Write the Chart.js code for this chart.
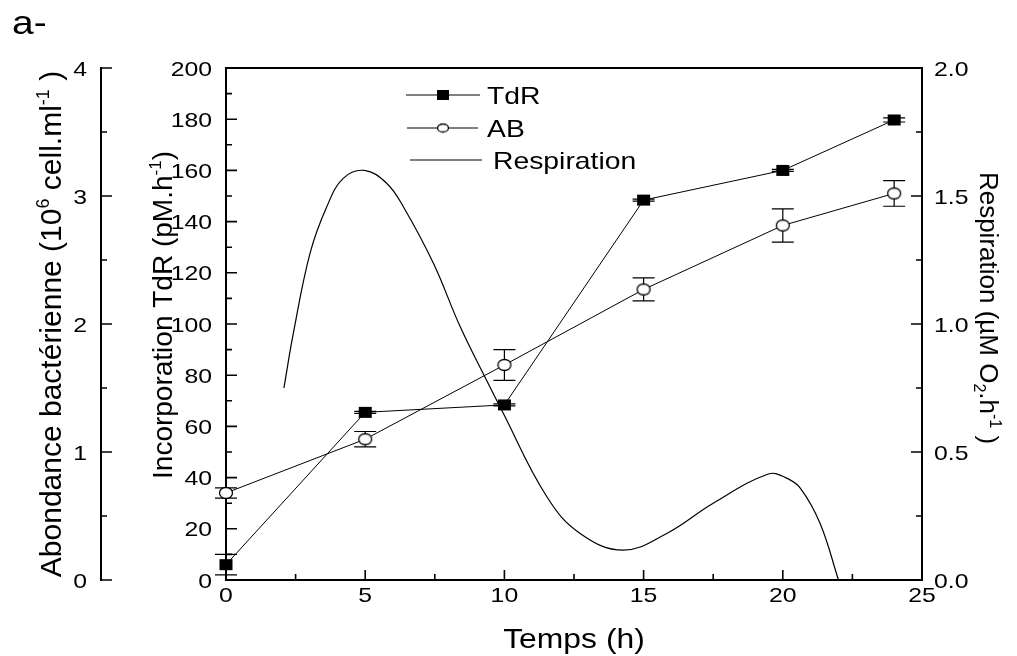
<!DOCTYPE html>
<html>
<head>
<meta charset="utf-8">
<script src="https://cdn.jsdelivr.net/npm/chart.js@4.4.0/dist/chart.umd.min.js"></script>
<style>
  html, body { margin: 0; padding: 0; background: #fff; }
  canvas { display: block; }
</style>
</head>
<body>
<canvas id="chart" width="1017" height="656"></canvas>
<script>
// --- data ---
const timeTdR = [0, 5, 10, 15, 20, 24];
const tdrValues = [6, 65.5, 68.4, 148.4, 160, 179.7];
const tdrErrors = [4, 0.4, 0.4, 0.4, 0.4, 0.8];

const timeAB = [0, 5, 10, 15, 20, 24];
const abValues = [0.68, 1.10, 1.68, 2.27, 2.77, 3.02];
const abErrors = [0.04, 0.06, 0.12, 0.09, 0.13, 0.10];

const respTime = [2.08, 2.42, 3.02, 3.62, 4.21, 4.97, 5.77, 6.37, 7.45, 8.41, 9.36, 9.9, 11.52, 12.72, 14.27, 15.83, 17.5, 19.48, 20.1, 20.62, 21.34, 22.0];
const respValues = [0.75, 0.964, 1.277, 1.458, 1.569, 1.60, 1.55, 1.458, 1.237, 0.99, 0.78, 0.664, 0.326, 0.182, 0.117, 0.182, 0.30, 0.414, 0.40, 0.36, 0.221, 0.0];

const xTicks = [0, 5, 10, 15, 20, 25];
const xMinorTicks = [2.5, 7.5, 12.5, 17.5, 22.5];
const tdrTicks = [0, 20, 40, 60, 80, 100, 120, 140, 160, 180, 200];
const abTicks = [0, 1, 2, 3, 4];
const respTicks = ['0.0', '0.5', '1.0', '1.5', '2.0'];

const FONT = '"Liberation Sans", Arial, sans-serif';
const SX = 1.18; // horizontal text is drawn a bit wide, like the original

function makeMarker(w, h, filled) {
  const c = document.createElement('canvas');
  c.width = w + 2; c.height = h + 2;
  const g = c.getContext('2d');
  if (filled) {
    g.fillStyle = '#000';
    g.fillRect(1, 1, w, h);
  } else {
    g.fillStyle = '#fff';
    g.strokeStyle = '#000';
    g.lineWidth = 1.3;
    g.beginPath();
    g.ellipse((w + 2) / 2, (h + 2) / 2, w / 2 - 0.5, h / 2 - 0.5, 0, 0, Math.PI * 2);
    g.fill();
    g.stroke();
  }
  return c;
}
const squareMark = makeMarker(13, 11, true);
const circleMark = makeMarker(14, 12, false);
const squareLegend = makeMarker(12, 10, true);
const circleLegend = makeMarker(12, 9, false);

// parts: [text, kind] kind 0 normal, 1 superscript, -1 subscript
function drawRich(ctx, parts, x, y, rot, size, align) {
  ctx.save();
  ctx.translate(x, y);
  if (!rot) ctx.scale(SX, 1);
  ctx.rotate(rot);
  ctx.textAlign = 'left';
  ctx.textBaseline = 'alphabetic';
  ctx.fillStyle = '#000';
  let total = 0;
  const widths = parts.map(([t, k]) => {
    ctx.font = (k ? Math.round(size * 0.6) : size) + 'px ' + FONT;
    const w = ctx.measureText(t).width;
    total += w;
    return w;
  });
  let cx = align === 'center' ? -total / 2 : align === 'right' ? -total : 0;
  parts.forEach(([t, k], i) => {
    ctx.font = (k ? Math.round(size * 0.6) : size) + 'px ' + FONT;
    const dy = k === 1 ? -size * 0.4 : k === -1 ? size * 0.22 : 0;
    ctx.fillText(t, cx, size * 0.36 + dy);
    cx += widths[i];
  });
  ctx.restore();
}

const axesPlugin = {
  id: 'axesPlugin',
  beforeDatasetsDraw(chart) {
    const ctx = chart.ctx;
    const { x, y, yAB, yR } = chart.scales;
    const area = chart.chartArea;
    ctx.save();
    ctx.strokeStyle = '#000';
    ctx.lineCap = 'butt';

    // frame
    ctx.lineWidth = 2;
    ctx.strokeRect(area.left, area.top, area.right - area.left, area.bottom - area.top);

    // bottom ticks
    ctx.lineWidth = 1.6;
    ctx.beginPath();
    xTicks.forEach(v => { const px = x.getPixelForValue(v); ctx.moveTo(px, area.bottom); ctx.lineTo(px, area.bottom - 10); });
    xMinorTicks.forEach(v => { const px = x.getPixelForValue(v); ctx.moveTo(px, area.bottom); ctx.lineTo(px, area.bottom - 6); });
    // TdR ticks
    for (let v = 0; v <= 200; v += 10) {
      const py = y.getPixelForValue(v);
      ctx.moveTo(area.left, py); ctx.lineTo(area.left + (v % 20 === 0 ? 11 : 6), py);
    }
    // respiration ticks
    for (let v = 0; v <= 2.001; v += 0.25) {
      const py = yR.getPixelForValue(v);
      const major = Math.abs(v * 2 - Math.round(v * 2)) < 1e-6;
      ctx.moveTo(area.right, py); ctx.lineTo(area.right - (major ? 11 : 6), py);
    }
    ctx.stroke();

    // abondance axis, detached on the far left
    const abX = 101;
    ctx.lineWidth = 2;
    ctx.beginPath();
    ctx.moveTo(abX, yAB.getPixelForValue(0) + 1);
    ctx.lineTo(abX, yAB.getPixelForValue(4) - 1);
    ctx.stroke();
    ctx.lineWidth = 1.6;
    ctx.beginPath();
    for (let v = 0; v <= 4.001; v += 0.5) {
      const py = yAB.getPixelForValue(v);
      ctx.moveTo(abX, py); ctx.lineTo(abX + (Number.isInteger(v) ? 11 : 6), py);
    }
    ctx.stroke();

    // tick labels
    const ts = 21;
    xTicks.forEach(v => drawRich(ctx, [[String(v), 0]], x.getPixelForValue(v), 594, 0, ts, 'center'));
    tdrTicks.forEach(v => drawRich(ctx, [[String(v), 0]], 212, y.getPixelForValue(v), 0, ts, 'right'));
    abTicks.forEach(v => drawRich(ctx, [[String(v), 0]], 87, yAB.getPixelForValue(v), 0, ts, 'right'));
    respTicks.forEach(t => drawRich(ctx, [[t, 0]], 934, yR.getPixelForValue(parseFloat(t)), 0, ts, 'left'));

    // titles
    drawRich(ctx, [['Temps (h)', 0]], (area.left + area.right) / 2, 638, 0, 27, 'center');
    drawRich(ctx, [['Incorporation TdR (pM.h', 0], ['-1', 1], [')', 0]], 162, 315, -Math.PI / 2, 28, 'center');
    drawRich(ctx, [['Abondance bactérienne (10', 0], ['6', 1], [' cell.ml', 0], ['-1', 1], [' )', 0]], 50, 324, -Math.PI / 2, 30, 'center');
    drawRich(ctx, [['Respiration (µM O', 0], ['2', -1], ['.h', 0], ['-1', 1], [' )', 0]], 989, 308, Math.PI / 2, 26, 'center');
    drawRich(ctx, [['a-', 0]], 12, 22, 0, 33, 'left');

    // legend
    ctx.lineWidth = 1;
    const legend = [
      { y: 95, x0: 406, x1: 480, mark: squareLegend, label: 'TdR', tx: 487 },
      { y: 128, x0: 407, x1: 478, mark: circleLegend, label: 'AB', tx: 487 },
      { y: 160, x0: 410, x1: 482, mark: null, label: 'Respiration', tx: 493 }
    ];
    legend.forEach(l => {
      ctx.beginPath(); ctx.moveTo(l.x0, l.y); ctx.lineTo(l.x1, l.y); ctx.stroke();
      if (l.mark) ctx.drawImage(l.mark, 443 - l.mark.width / 2, l.y - l.mark.height / 2);
      drawRich(ctx, [[l.label, 0]], l.tx, l.y, 0, 24, 'left');
    });

    // error bars
    ctx.lineWidth = 1.2;
    const bars = (times, vals, errs, scale) => {
      ctx.beginPath();
      times.forEach((t, i) => {
        const px = x.getPixelForValue(t);
        const top = scale.getPixelForValue(vals[i] + errs[i]);
        const bot = scale.getPixelForValue(vals[i] - errs[i]);
        ctx.moveTo(px, top); ctx.lineTo(px, bot);
        ctx.moveTo(px - 11, top); ctx.lineTo(px + 11, top);
        ctx.moveTo(px - 11, bot); ctx.lineTo(px + 11, bot);
      });
      ctx.stroke();
    };
    bars(timeAB, abValues, abErrors, yAB);
    bars(timeTdR, tdrValues, tdrErrors, y);
    ctx.restore();
  }
};

new Chart(document.getElementById('chart'), {
  type: 'scatter',
  data: {
    datasets: [
      {
        label: 'TdR',
        data: timeTdR.map((t, i) => ({ x: t, y: tdrValues[i] })),
        yAxisID: 'y',
        showLine: true,
        borderColor: '#000',
        borderWidth: 1,
        pointStyle: squareMark,
        clip: false,
        order: 1
      },
      {
        label: 'AB',
        data: timeAB.map((t, i) => ({ x: t, y: abValues[i] })),
        yAxisID: 'yAB',
        showLine: true,
        borderColor: '#000',
        borderWidth: 1,
        pointStyle: circleMark,
        clip: false,
        order: 2
      },
      {
        label: 'Respiration',
        data: respTime.map((t, i) => ({ x: t, y: respValues[i] })),
        yAxisID: 'yR',
        showLine: true,
        borderColor: '#000',
        borderWidth: 1.2,
        pointRadius: 0,
        tension: 0.4,
        clip: false,
        order: 3
      }
    ]
  },
  options: {
    responsive: false,
    animation: false,
    devicePixelRatio: 1,
    layout: { padding: { left: 226, right: 95, top: 68, bottom: 76 } },
    plugins: { legend: { display: false }, tooltip: { enabled: false } },
    scales: {
      x: { type: 'linear', min: 0, max: 25, display: false },
      y: { min: 0, max: 200, display: false },
      yAB: { min: 0, max: 4, display: false },
      yR: { min: 0, max: 2, display: false }
    }
  },
  plugins: [axesPlugin]
});
</script>
</body>
</html>
